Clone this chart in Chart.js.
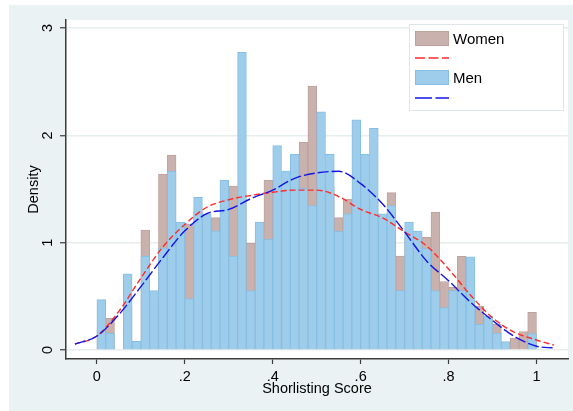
<!DOCTYPE html>
<html>
<head>
<meta charset="utf-8">
<script src="https://cdn.jsdelivr.net/npm/chart.js@4.4.1/dist/chart.umd.min.js"></script>
<style>
  html, body { margin: 0; padding: 0; background: #fff; }
  #grafico { display: block; }
</style>
</head>
<body>
<canvas id="grafico" width="573" height="411"></canvas>
<script>
// -------- DATOS --------
const BIN_WIDTH = 0.02;

// histogram densities, one value per 0.02 bin from 0 to 1
const womenDensity = [
  0.18, 0.295, 0, 0.41, 0.06, 1.118, 0.47, 1.64, 1.817, 1.05,
  1.174, 1.29, 1.17, 1.233, 1.35, 1.528, 1.46, 0.994, 1.11, 1.584,
  1.52, 1.46, 1.58, 1.936, 2.46, 1.64, 1.52, 1.233, 1.407, 1.35,
  1.29, 1.41, 1.17, 1.466, 0.876, 1.05, 1.0, 1.05, 1.285, 0.638,
  0.585, 0.873, 0.76, 0.41, 0.29, 0.238, 0.06, 0.11, 0.172, 0.35
];
const menDensity = [
  0.47, 0.155, 0, 0.71, 0.08, 0.876, 0.553, 0.95, 1.665, 1.193,
  0.478, 1.423, 1.268, 1.11, 1.584, 0.876, 2.774, 0.553, 1.193, 1.032,
  1.904, 1.668, 1.824, 1.507, 1.345, 2.22, 1.824, 1.105, 1.268, 2.144,
  1.824, 2.066, 1.268, 1.345, 0.553, 1.193, 1.108, 0.945, 0.553, 0.395,
  0.553, 0.553, 0.868, 0.24, 0.316, 0.158, 0.078, 0, 0, 0.153
];

// kernel density curves
const kdeX = [-0.05, 0, 0.05, 0.1, 0.15, 0.2, 0.25, 0.3, 0.35, 0.4, 0.45, 0.5,
  0.55, 0.6, 0.65, 0.7, 0.75, 0.8, 0.85, 0.9, 0.95, 1.0, 1.04];
const kdeWomen = [0.055, 0.13, 0.36, 0.67, 0.96, 1.17, 1.33, 1.40, 1.44, 1.47, 1.49, 1.49,
  1.43, 1.31, 1.23, 1.10, 0.97, 0.755, 0.51, 0.30, 0.165, 0.093, 0.045];
const kdeMen = [0.055, 0.13, 0.33, 0.59, 0.86, 1.11, 1.27, 1.31, 1.41, 1.49, 1.60, 1.65,
  1.665, 1.55, 1.36, 1.10, 0.83, 0.645, 0.445, 0.275, 0.125, 0.035, 0.019];

const xTicks = [0, 0.2, 0.4, 0.6, 0.8, 1];
const xTickLabels = ["0", ".2", ".4", ".6", ".8", "1"];
const yTicks = [0, 1, 2, 3];
const yTickLabels = ["0", "1", "2", "3"];

const serieNombres = ["Women", "Men"];

// -------- ESTILO --------
const FUENTE = "'Liberation Sans', Arial, sans-serif";
const EJE = "#3c3c3c";
const GRILLA = "#e6eef0";
const FONDO = "#eaf2f3";

const binCenters = womenDensity.map((_, i) => BIN_WIDTH / 2 + i * BIN_WIDTH);

// -------- PLUGINS --------
const fondo = {
  id: "fondo",
  beforeDraw(chart) {
    const { ctx, chartArea: a } = chart;
    ctx.save();
    ctx.fillStyle = "#ffffff";
    ctx.fillRect(0, 0, chart.width, chart.height);
    ctx.fillStyle = FONDO;
    ctx.fillRect(9, 5, chart.width - 9, chart.height - 5);
    ctx.fillStyle = "#ffffff";
    ctx.fillRect(a.left, a.top, a.right - a.left, a.bottom - a.top);
    ctx.restore();
  }
};

const leyenda = {
  id: "leyenda",
  afterDraw(chart) {
    const ctx = chart.ctx;
    const ds = chart.data.datasets;
    ctx.save();
    ctx.fillStyle = "#ffffff";
    ctx.fillRect(409, 24, 154, 86);
    ctx.strokeStyle = "#dde7ea";
    ctx.lineWidth = 1;
    ctx.strokeRect(409.5, 24.5, 154, 86);

    ctx.font = "15px " + FUENTE;
    ctx.textBaseline = "alphabetic";
    ctx.fillStyle = "#000";

    // filas: barra, linea, barra, linea
    const filas = [
      { d: ds[0], y: 31 },
      { d: ds[2], y: 58 },
      { d: ds[1], y: 70 },
      { d: ds[3], y: 98 }
    ];
    filas.forEach(f => {
      if (f.d.type === "bar") {
        ctx.fillStyle = f.d.backgroundColor;
        ctx.fillRect(415, f.y, 34, 15);
        ctx.strokeStyle = f.d.borderColor;
        ctx.strokeRect(415.5, f.y + 0.5, 33, 14);
        ctx.fillStyle = "#000";
        ctx.fillText(f.d.label, 453, f.y + 13);
      } else {
        ctx.strokeStyle = f.d.borderColor;
        ctx.lineWidth = 1.6;
        ctx.setLineDash(f.d.legendDash);
        ctx.beginPath();
        ctx.moveTo(415, f.y);
        ctx.lineTo(449, f.y);
        ctx.stroke();
        ctx.setLineDash([]);
        ctx.lineWidth = 1;
      }
    });
    ctx.restore();
  }
};

// -------- GRAFICO --------
new Chart(document.getElementById("grafico"), {
  data: {
    datasets: [
      {
        type: "bar",
        label: serieNombres[0],
        data: binCenters.map((x, i) => ({ x, y: womenDensity[i] })),
        backgroundColor: "#c9b2ad",
        borderColor: "#bfa29c",
        borderWidth: 1,
        grouped: false,
        barPercentage: 1,
        categoryPercentage: 1,
        order: 4
      },
      {
        type: "bar",
        label: serieNombres[1],
        data: binCenters.map((x, i) => ({ x, y: menDensity[i] })),
        backgroundColor: "#9dcdeb",
        borderColor: "#86bfe5",
        borderWidth: 1,
        grouped: false,
        barPercentage: 1,
        categoryPercentage: 1,
        order: 3
      },
      {
        type: "line",
        label: "",
        data: kdeX.map((x, i) => ({ x, y: kdeWomen[i] })),
        borderColor: "#ff2a2a",
        borderWidth: 1.4,
        borderDash: [6, 3],
        legendDash: [10, 3.5],
        pointRadius: 0,
        fill: false,
        cubicInterpolationMode: "monotone",
        order: 2
      },
      {
        type: "line",
        label: "",
        data: kdeX.map((x, i) => ({ x, y: kdeMen[i] })),
        borderColor: "#1414e6",
        borderWidth: 1.4,
        borderDash: [11, 3],
        legendDash: [17, 3.5],
        pointRadius: 0,
        fill: false,
        cubicInterpolationMode: "monotone",
        order: 1
      }
    ]
  },
  options: {
    responsive: false,
    animation: false,
    events: [],
    layout: { padding: { top: 20, right: 5, left: 0, bottom: 0 } },
    plugins: {
      legend: { display: false },
      tooltip: { enabled: false }
    },
    scales: {
      x: {
        type: "linear",
        position: "bottom",
        offset: false,
        min: -0.0703,
        max: 1.0717,
        afterBuildTicks: s => { s.ticks = xTicks.map(v => ({ value: v })); },
        afterFit: s => { s.height = 52; },
        grid: {
          offset: false,
          drawOnChartArea: false,
          drawTicks: true,
          tickLength: 5,
          tickColor: EJE,
          tickWidth: 1.2
        },
        border: { display: true, color: EJE, width: 1.5 },
        ticks: {
          autoSkip: false,
          maxRotation: 0,
          padding: 4,
          color: "#000",
          font: { family: FUENTE, size: 14.5 },
          callback: v => xTickLabels[xTicks.indexOf(v)]
        },
        title: {
          display: true,
          text: "Shorlisting Score",
          color: "#000",
          font: { family: FUENTE, size: 14.5 },
          padding: { top: 0, bottom: 13 }
        }
      },
      y: {
        type: "linear",
        min: -0.084,
        max: 3.075,
        afterBuildTicks: s => { s.ticks = yTicks.map(v => ({ value: v })); },
        afterFit: s => { s.width = 66; },
        grid: {
          color: GRILLA,
          lineWidth: 1.5,
          drawTicks: true,
          tickLength: 6,
          tickColor: EJE,
          tickWidth: 1.2
        },
        border: { display: true, color: EJE, width: 1.5 },
        ticks: {
          minRotation: 90,
          maxRotation: 90,
          crossAlign: "center",
          padding: 7.7,
          color: "#000",
          font: { family: FUENTE, size: 14.5 },
          callback: v => yTickLabels[yTicks.indexOf(v)]
        },
        title: {
          display: true,
          text: "Density",
          color: "#000",
          font: { family: FUENTE, size: 14.5 },
          padding: { top: 25, bottom: 0 }
        }
      }
    }
  },
  plugins: [fondo, leyenda]
});
</script>
</body>
</html>
